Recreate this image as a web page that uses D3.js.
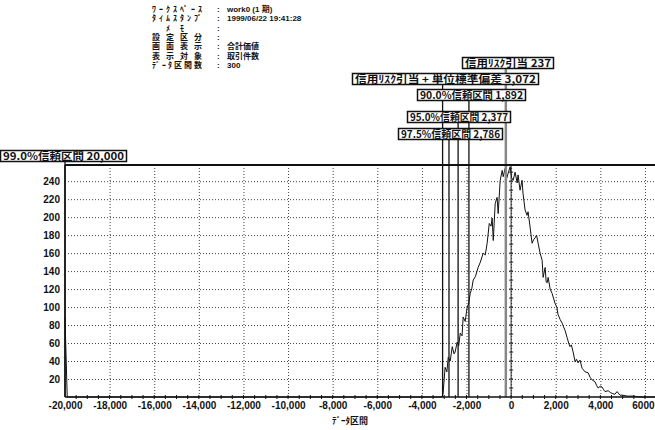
<!DOCTYPE html>
<html>
<head>
<meta charset="utf-8">
<script src="https://cdn.jsdelivr.net/npm/d3@7"></script>
<style>
  body { margin: 0; background: #fff; }
  svg { display: block; }
  text { font-family: "Noto Sans CJK JP", "Liberation Sans", sans-serif; font-weight: bold; fill: #111; }
  .tick text { font-family: "Liberation Sans", Arial, sans-serif; font-size: 10px; }
  .hv { font-family: "Liberation Sans", "Noto Sans CJK JP", sans-serif; }
</style>
</head>
<body>
<svg width="655" height="430"></svg>
<script>
// header block
var headerLabels = ["ﾜｰｸｽﾍﾟｰｽ", "ﾀｲﾑｽﾀﾝﾌﾟ", "ﾒ ﾓ", "設定区分", "画面表示", "表示対象", "ﾃﾞｰﾀ区間数"];
var headerValues = ["work0 (1 期)", "1999/06/22 19:41:28", "", "", "合計価値", "取引件数", "300"];

// marker lines and their labels
var markerValues = [-237, -3072, -1892, -2377, -2786, -20000];
var markerLabels = ["信用ﾘｽｸ引当 237", "信用ﾘｽｸ引当 + 単位標準偏差 3,072", "90.0%信頼区間 1,892",
                    "95.0%信頼区間 2,377", "97.5%信頼区間 2,786", "99.0%信頼区間 20,000"];

// ticks
var xTicks = [-20000, -18000, -16000, -14000, -12000, -10000, -8000, -6000, -4000, -2000, 0, 2000, 4000, 6000];
var xTickLabels = ["-20,000", "-18,000", "-16,000", "-14,000", "-12,000", "-10,000", "-8,000", "-6,000", "-4,000", "-2,000", "0", "2,000", "4,000", "6000"];
var yTicks = [20, 40, 60, 80, 100, 120, 140, 160, 180, 200, 220, 240];

// histogram curve (データ区間 -> 件数)
var curveX = [-20000, -19900, -3100, -3050, -2960, -2880, -2820, -2730, -2640, -2560, -2510, -2420, -2350, -2280, -2200,
  -2150, -2060, -1970, -1900, -1835, -1760, -1700, -1600, -1480, -1380, -1250, -1160, -1075, -980, -900,
  -850, -800, -715, -630, -580, -490, -400, -355, -270, -200, -130, -45, 20, 90, 180,
  270, 310, 400, 490, 535, 625, 715, 760, 850, 940, 1010, 1075, 1140, 1210, 1300,
  1390, 1435, 1525, 1570, 1615, 1660, 1750, 1840, 1970, 2050, 2100, 2200, 2290, 2350, 2420,
  2510, 2580, 2640, 2700, 2780, 2870, 2930, 3000, 3090, 3180, 3250, 3310, 3450, 3540, 3630,
  3760, 3830, 3900, 4000, 4080, 4150, 4210, 4350, 4450, 4530, 4650, 4750, 4880, 5000, 5200,
  5500, 5780, 6450];
var curveCount = [88, 0, 0, 4, 33, 28, 44, 40, 56, 48, 50, 61, 57, 71, 68,
  89, 84, 100, 104, 115, 121, 130, 134, 144, 150, 160, 158, 171, 193, 190,
  199, 174, 215, 222, 204, 241, 252, 245, 254, 243, 249, 256, 244, 241, 250,
  238, 247, 230, 241, 226, 208, 202, 206, 189, 171, 175, 177, 180, 171, 160,
  152, 133, 144, 128, 127, 133, 120, 115, 104, 100, 92, 86, 82, 78, 74,
  66, 60, 56, 58, 50, 39, 42, 38, 41, 32, 30, 28, 27, 22, 19,
  17, 13, 10, 12, 11, 8, 6, 7, 5, 4, 3, 6, 2, 2, 1,
  1, 0, 0];

var svg = d3.select("svg"),
    plot = {left: 65, right: 655, top: 165, bottom: 397};

var x = d3.scaleLinear().domain([-20000, 6450]).range([plot.left, plot.right]),
    y = d3.scaleLinear().domain([0, 258]).range([plot.bottom, plot.top]);

// header
var header = svg.append("g").attr("font-size", 8);
headerLabels.forEach(function(lab, i) {
  var yy = 12 + i * 9.3;
  var memo = lab == "ﾒ ﾓ";
  header.append("text").attr("x", memo ? 166 : 152).attr("y", yy)
      .attr("textLength", memo ? 18 : 50).attr("lengthAdjust", "spacing").text(lab);
  header.append("text").attr("class", "hv").attr("x", 217).attr("y", yy).text(":");
  header.append("text").attr("class", "hv").attr("x", 227).attr("y", yy).text(headerValues[i]);
});

// dotted grid
var grid = svg.append("g").attr("stroke", "#444").attr("stroke-width", 1).attr("stroke-dasharray", "1,2");
grid.selectAll(".gy").data(yTicks).enter().append("line")
    .attr("x1", plot.left).attr("x2", plot.right)
    .attr("y1", function(d) { return y(d) + 0.5; }).attr("y2", function(d) { return y(d) + 0.5; });
grid.selectAll(".gx").data(xTicks.slice(1)).enter().append("line")
    .attr("y1", plot.top).attr("y2", plot.bottom)
    .attr("x1", function(d) { return x(d) + 0.5; }).attr("x2", function(d) { return x(d) + 0.5; });

// curve
svg.append("path")
    .datum(curveX.map(function(d, i) { return [d, curveCount[i]]; }))
    .attr("fill", "none").attr("stroke", "#111").attr("stroke-width", 1)
    .attr("d", d3.line().x(function(d) { return x(d[0]); }).y(function(d) { return y(d[1]); }));

// axis at 0 with small ticks
var zeroAxis = svg.append("g").attr("stroke", "#222");
zeroAxis.append("line").attr("x1", x(0)).attr("x2", x(0)).attr("y1", plot.top).attr("y2", plot.bottom);
zeroAxis.selectAll(".zt").data(d3.range(10, 251, 10)).enter().append("line")
    .attr("x1", x(0) - 2).attr("x2", x(0) + 2)
    .attr("y1", function(d) { return y(d); }).attr("y2", function(d) { return y(d); });

// boxes layout (left edge, top, right edge)
var boxLeft = [462, 352, 417, 407, 398, 0],
    boxTop = [57, 73, 89, 111, 128, 150],
    boxRight = [553, 538, 525, 510, 502, 126],
    boxH = 11;

// marker lines, from box bottom down to the x axis
svg.append("g").selectAll("line").data(markerValues).enter().append("line")
    .attr("x1", function(d) { return x(d); }).attr("x2", function(d) { return x(d); })
    .attr("y1", function(d, i) { return boxTop[i] + boxH; }).attr("y2", plot.bottom)
    .attr("stroke", function(d) { return d == -237 ? "#888" : "#111"; })
    .attr("stroke-width", function(d) { return d == -237 ? 2.5 : 1.3; });

var boxes = svg.append("g").selectAll("g").data(markerLabels).enter().append("g");
boxes.append("rect")
    .attr("x", function(d, i) { return boxLeft[i] + 0.5; }).attr("y", function(d, i) { return boxTop[i] + 0.5; })
    .attr("width", function(d, i) { return boxRight[i] - boxLeft[i]; }).attr("height", boxH)
    .attr("fill", "#fff").attr("stroke", "#111").attr("stroke-width", 1.5);
boxes.append("text")
    .attr("x", function(d, i) { return boxLeft[i] + 3; }).attr("y", function(d, i) { return boxTop[i] + 9.5; })
    .attr("font-size", 10)
    .attr("textLength", function(d, i) { return boxRight[i] - boxLeft[i] - 5; })
    .attr("lengthAdjust", "spacingAndGlyphs")
    .text(function(d) { return d; });

// frame: top, left, bottom
var frame = svg.append("g").attr("stroke", "#111").attr("fill", "none");
frame.append("line").attr("x1", plot.left).attr("x2", plot.right).attr("y1", plot.top).attr("y2", plot.top).attr("stroke-width", 2);
frame.append("line").attr("x1", plot.left).attr("x2", plot.left).attr("y1", plot.top).attr("y2", plot.bottom).attr("stroke-width", 1.5);
frame.append("line").attr("x1", plot.left).attr("x2", plot.right).attr("y1", plot.bottom).attr("y2", plot.bottom).attr("stroke-width", 1.5);

// minor ticks on x axis
frame.selectAll(".mt").data(d3.range(-19500, 6450, 500)).enter().append("line")
    .attr("x1", function(d) { return x(d); }).attr("x2", function(d) { return x(d); })
    .attr("y1", plot.bottom - 2).attr("y2", plot.bottom + 2).attr("stroke-width", 1);

// axes labels
var xAxis = d3.axisBottom(x).tickValues(xTicks).tickSize(0).tickPadding(5)
    .tickFormat(function(d, i) { return xTickLabels[i]; });
svg.append("g").attr("transform", "translate(0," + plot.bottom + ")").call(xAxis)
   .call(function(g) {
     g.select(".domain").remove();
     // last label would run off the right edge
     g.selectAll(".tick").filter(function(d) { return d == 6000; }).select("text")
      .attr("text-anchor", "end").attr("x", plot.right - x(6000) - 1);
   });

var yAxis = d3.axisLeft(y).tickValues(yTicks).tickSize(0).tickPadding(5);
svg.append("g").attr("transform", "translate(" + plot.left + ",0)").call(yAxis)
   .call(function(g) { g.select(".domain").remove(); });

svg.append("text").attr("x", 350).attr("y", 424).attr("text-anchor", "middle")
   .attr("font-size", 9).text("ﾃﾞｰﾀ区間");
</script>
</body>
</html>
